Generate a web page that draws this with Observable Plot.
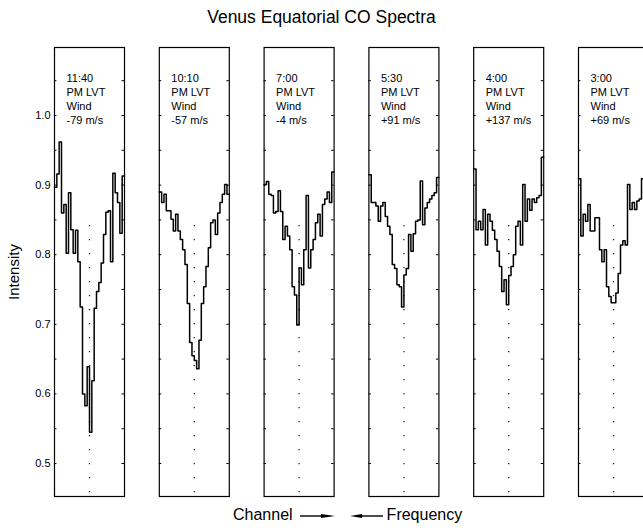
<!DOCTYPE html>
<html>
<head>
<meta charset="utf-8">
<script src="https://cdn.jsdelivr.net/npm/d3@7"></script>
<script src="https://cdn.jsdelivr.net/npm/@observablehq/plot@0.6"></script>
<style>
  html, body { margin: 0; padding: 0; background: #fff; overflow: hidden; }
  body { width: 643px; height: 528px; font-family: "Liberation Sans", Arial, Helvetica, sans-serif; color: #000; }
  #title { height: 36px; box-sizing: border-box; padding-top: 7px; font-size: 17.5px; line-height: 20px; text-align: center; white-space: nowrap; }
  #chart svg { display: block; overflow: visible; }
  #caption { margin-top: 2px; height: 20px; font-size: 16px; line-height: 20px; white-space: nowrap; padding-left: 233px; }
  #caption svg { vertical-align: middle; }
</style>
</head>
<body>
<div id="title">Venus Equatorial CO Spectra</div>
<div id="chart"></div>
<div id="caption"><span>Channel</span><svg width="35" height="8" style="margin-left:7px"><line x1="0" y1="4" x2="24" y2="4" stroke="#000" stroke-width="1.4"/><polygon points="21,2 35,4 21,6" fill="#000"/></svg><svg width="33" height="8" style="margin-left:15px"><line x1="9" y1="4" x2="33" y2="4" stroke="#000" stroke-width="1.4"/><polygon points="12,2 0,4 12,6" fill="#000"/></svg><span style="margin-left:4px">Frequency</span></div>
<script>
// Panel labels (local Venus time) and derived winds
const panels = ["11:40", "10:10", "7:00", "5:30", "4:00", "3:00"];
const winds = ["-79", "-57", "-4", "+91", "+137", "+69"];

// CO line intensity per channel, one array per panel
const spec1140 = [0.897, 0.916, 0.962, 0.860, 0.872, 0.802, 0.889, 0.836, 0.802, 0.835, 0.790, 0.725, 0.600, 0.583, 0.639, 0.545,
                  0.619, 0.723, 0.747, 0.760, 0.788, 0.829, 0.861, 0.863, 0.790, 0.917, 0.889, 0.875, 0.831, 0.913];
const spec1010 = [0.890, 0.875, 0.887, 0.863, 0.863, 0.851, 0.834, 0.858, 0.834, 0.822, 0.807, 0.786, 0.730, 0.674, 0.655, 0.648,
                  0.636, 0.677, 0.730, 0.754, 0.783, 0.810, 0.846, 0.850, 0.829, 0.860, 0.875, 0.887, 0.901, 0.887];
const spec0700 = [0.901, 0.905, 0.887, 0.885, 0.860, 0.862, 0.892, 0.862, 0.822, 0.841, 0.827, 0.807, 0.754, 0.742, 0.699, 0.781,
                  0.757, 0.807, 0.885, 0.781, 0.807, 0.822, 0.846, 0.858, 0.827, 0.872, 0.880, 0.890, 0.875, 0.919];
const spec0530 = [0.915, 0.875, 0.875, 0.870, 0.848, 0.870, 0.875, 0.855, 0.841, 0.829, 0.786, 0.780, 0.757, 0.754, 0.725, 0.771,
                  0.780, 0.829, 0.805, 0.830, 0.848, 0.850, 0.906, 0.843, 0.867, 0.875, 0.880, 0.885, 0.889, 0.911];
const spec0400 = [0.923, 0.836, 0.848, 0.836, 0.865, 0.814, 0.858, 0.848, 0.835, 0.822, 0.805, 0.783, 0.747, 0.764, 0.728, 0.770,
                  0.783, 0.800, 0.841, 0.848, 0.814, 0.901, 0.848, 0.880, 0.864, 0.880, 0.875, 0.882, 0.885, 0.940];
const spec0300 = [0.909, 0.827, 0.858, 0.848, 0.872, 0.834, 0.834, 0.853, 0.853, 0.807, 0.790, 0.807, 0.754, 0.740, 0.731, 0.731,
                  0.745, 0.773, 0.814, 0.820, 0.814, 0.901, 0.865, 0.875, 0.865, 0.877, 0.880, 0.909, 0.905, 0.920];

const yTicks = [0.5, 0.6, 0.7, 0.8, 0.9, 1.0];
const frameTickValues = [0.50, 0.55, 0.60, 0.65, 0.70, 0.75, 0.80, 0.85, 0.90, 0.95, 1.00, 1.05];
const yDomain = [0.4526, 1.0977];
const lineCenterTop = 0.842;

const spectra = [spec1140, spec1010, spec0700, spec0530, spec0400, spec0300];
const nCh = spec1140.length;

const rows = [];
spectra.forEach((s, k) => {
  s.forEach((v, i) => rows.push({panel: panels[k], ch: i, v}));
  rows.push({panel: panels[k], ch: s.length, v: s[s.length - 1]});
});

const chart = Plot.plot({
  width: 643,
  height: 467,
  marginLeft: 54,
  marginRight: -5,
  marginTop: 11,
  marginBottom: 7,
  style: {fontFamily: "Liberation Sans, Arial, Helvetica, sans-serif", fontSize: "11px", color: "#000", background: "white", overflow: "visible"},
  fx: {domain: panels, paddingInner: 0.332, paddingOuter: 0, round: false, axis: null, label: null},
  x: {domain: [0, nCh], axis: null},
  y: {domain: yDomain, ticks: yTicks, tickFormat: ".1f", tickSize: 0, tickPadding: 4, label: null},
  marks: [
    Plot.frame({stroke: "#000", strokeWidth: 1.2}),
    Plot.ruleY(frameTickValues, {x1: 0, x2: nCh * 0.035, stroke: "#000", strokeWidth: 1}),
    Plot.ruleY(frameTickValues, {x1: nCh * 0.965, x2: nCh, stroke: "#000", strokeWidth: 1}),
    Plot.ruleX([nCh / 2], {y1: lineCenterTop, y2: yDomain[0], stroke: "#222", strokeWidth: 1.3, strokeDasharray: "1.3,12.7"}),
    Plot.line(rows, {x: "ch", y: "v", fx: "panel", curve: "step-after", stroke: "#000", strokeWidth: 1.5}),
    Plot.text(panels, {
      fx: d => d,
      text: (d, i) => `${d}\nPM LVT\nWind\n${winds[i]} m/s`,
      frameAnchor: "top-left", lineAnchor: "top", textAnchor: "start",
      dx: 12, dy: 25, fontSize: 11, lineHeight: 1.27, fill: "#000"
    }),
    Plot.text(["Intensity"], {
      fx: [panels[0]],
      frameAnchor: "left", rotate: -90, dx: -40,
      fontSize: 15, textAnchor: "middle", lineAnchor: "middle", fill: "#000"
    })
  ]
});
document.getElementById("chart").appendChild(chart);
</script>
</body>
</html>
